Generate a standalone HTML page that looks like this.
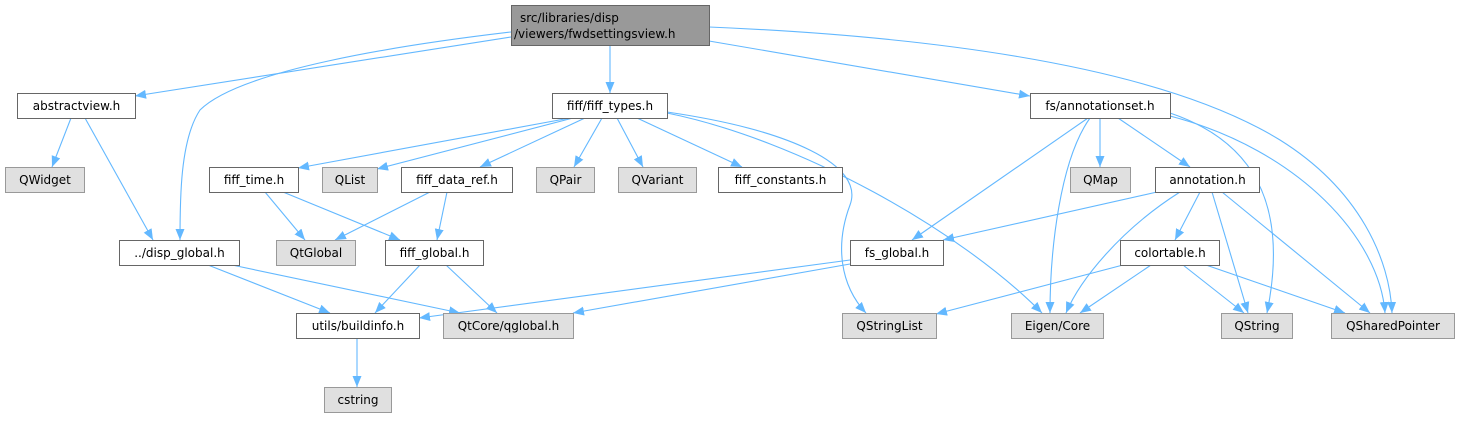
<!DOCTYPE html>
<html><head><meta charset="utf-8"><style>html,body{margin:0;padding:0;background:#fff}</style></head><body>
<svg width="1458" height="417" viewBox="0 0 1458 417" xmlns="http://www.w3.org/2000/svg" font-family="DejaVu Sans, Liberation Sans, sans-serif" font-size="12">
<defs><marker id="a" markerUnits="userSpaceOnUse" markerWidth="12" markerHeight="10" refX="11" refY="5" orient="auto"><path d="M0,0.5 L11,5 L0,9.5 Z" fill="#63b8ff"/></marker></defs>
<g fill="none" stroke="#63b8ff" stroke-width="1.1" marker-end="url(#a)">
<path d="M511,37 L135,96"/>
<path d="M511,32 C400,45 240,70 200,110 C180,140 180,200 180,240"/>
<path d="M610,45 L610,93"/>
<path d="M709,41 L1030,96"/>
<path d="M709,27 C900,35 1150,60 1280,140 C1360,190 1390,260 1392,313"/>
<path d="M71,118 L52,167"/>
<path d="M85,118 L153,240"/>
<path d="M570,118 L298,168"/>
<path d="M573,118 L377,169"/>
<path d="M585,118 L480,167"/>
<path d="M602,118 L574,167"/>
<path d="M617,118 L643,167"/>
<path d="M637,118 L742,167"/>
<path d="M667,112 C790,130 865,165 850,205 C835,245 840,285 866,313"/>
<path d="M667,113 C800,140 960,230 1042,313"/>
<path d="M1088,118 L912,240"/>
<path d="M1090,118 C1060,160 1050,250 1050,313"/>
<path d="M1100,118 L1100,167"/>
<path d="M1118,118 L1190,167"/>
<path d="M1170,113 C1250,140 1290,200 1267,313"/>
<path d="M1170,116 C1300,150 1380,240 1385,313"/>
<path d="M1157,192 L943,240"/>
<path d="M1180,192 C1120,230 1080,280 1066,313"/>
<path d="M1200,192 L1175,240"/>
<path d="M1212,192 L1248,313"/>
<path d="M1222,192 L1370,313"/>
<path d="M265,192 L305,240"/>
<path d="M283,192 L400,240"/>
<path d="M430,192 L335,240"/>
<path d="M447,192 L437,240"/>
<path d="M208,265 L330,313"/>
<path d="M232,265 L460,313"/>
<path d="M420,265 L375,313"/>
<path d="M446,265 L497,313"/>
<path d="M850,260 L419,318"/>
<path d="M850,264 L573,313"/>
<path d="M1123,265 L936,314"/>
<path d="M1151,265 L1080,313"/>
<path d="M1183,265 L1244,313"/>
<path d="M1206,265 L1345,313"/>
<path d="M357,339 L357,387"/>
</g>
<g stroke-width="1">
<rect x="511.5" y="5.5" width="198" height="40" fill="#999" stroke="#666"/>
<g fill="#fff" stroke="#666">
<rect x="17.5" y="93.5" width="118" height="25"/>
<rect x="552.5" y="93.5" width="115" height="25"/>
<rect x="1030.5" y="93.5" width="140" height="25"/>
<rect x="209.5" y="167.5" width="89" height="25"/>
<rect x="401.5" y="167.5" width="111" height="25"/>
<rect x="718.5" y="167.5" width="124" height="25"/>
<rect x="1155.5" y="167.5" width="104" height="25"/>
<rect x="119.5" y="240.5" width="120" height="25"/>
<rect x="385.5" y="240.5" width="98" height="25"/>
<rect x="850.5" y="240.5" width="93" height="25"/>
<rect x="1120.5" y="240.5" width="99" height="25"/>
<rect x="296.5" y="313.5" width="123" height="25"/>
</g>
<g fill="#e0e0e0" stroke="#999">
<rect x="5.5" y="167.5" width="79" height="25"/>
<rect x="322.5" y="167.5" width="55" height="25"/>
<rect x="536.5" y="167.5" width="58" height="25"/>
<rect x="618.5" y="167.5" width="78" height="25"/>
<rect x="1070.5" y="167.5" width="60" height="25"/>
<rect x="276.5" y="240.5" width="79" height="25"/>
<rect x="443.5" y="313.5" width="130" height="25"/>
<rect x="842.5" y="313.5" width="94" height="25"/>
<rect x="1011.5" y="313.5" width="92" height="25"/>
<rect x="1221.5" y="313.5" width="71" height="25"/>
<rect x="1331.5" y="313.5" width="123" height="25"/>
<rect x="324.5" y="387.5" width="67" height="25"/>
</g>
</g>
<g fill="#000" text-anchor="middle">
<text x="520" y="22" text-anchor="start">src/libraries/disp</text>
<text x="514" y="38" text-anchor="start">/viewers/fwdsettingsview.h</text>
<text x="76.5" y="110">abstractview.h</text>
<text x="610" y="110">fiff/fiff_types.h</text>
<text x="1100" y="110">fs/annotationset.h</text>
<text x="45" y="184">QWidget</text>
<text x="254" y="184">fiff_time.h</text>
<text x="350" y="184">QList</text>
<text x="457" y="184">fiff_data_ref.h</text>
<text x="565.5" y="184">QPair</text>
<text x="657.5" y="184">QVariant</text>
<text x="780.5" y="184">fiff_constants.h</text>
<text x="1100.5" y="184">QMap</text>
<text x="1207.5" y="184">annotation.h</text>
<text x="179.5" y="257">../disp_global.h</text>
<text x="316" y="257">QtGlobal</text>
<text x="434.5" y="257">fiff_global.h</text>
<text x="897" y="257">fs_global.h</text>
<text x="1170" y="257">colortable.h</text>
<text x="358" y="330">utils/buildinfo.h</text>
<text x="508.5" y="330">QtCore/qglobal.h</text>
<text x="889.5" y="330">QStringList</text>
<text x="1057.5" y="330">Eigen/Core</text>
<text x="1257" y="330">QString</text>
<text x="1393" y="330">QSharedPointer</text>
<text x="358" y="404">cstring</text>
</g>
</svg>
</body></html>
